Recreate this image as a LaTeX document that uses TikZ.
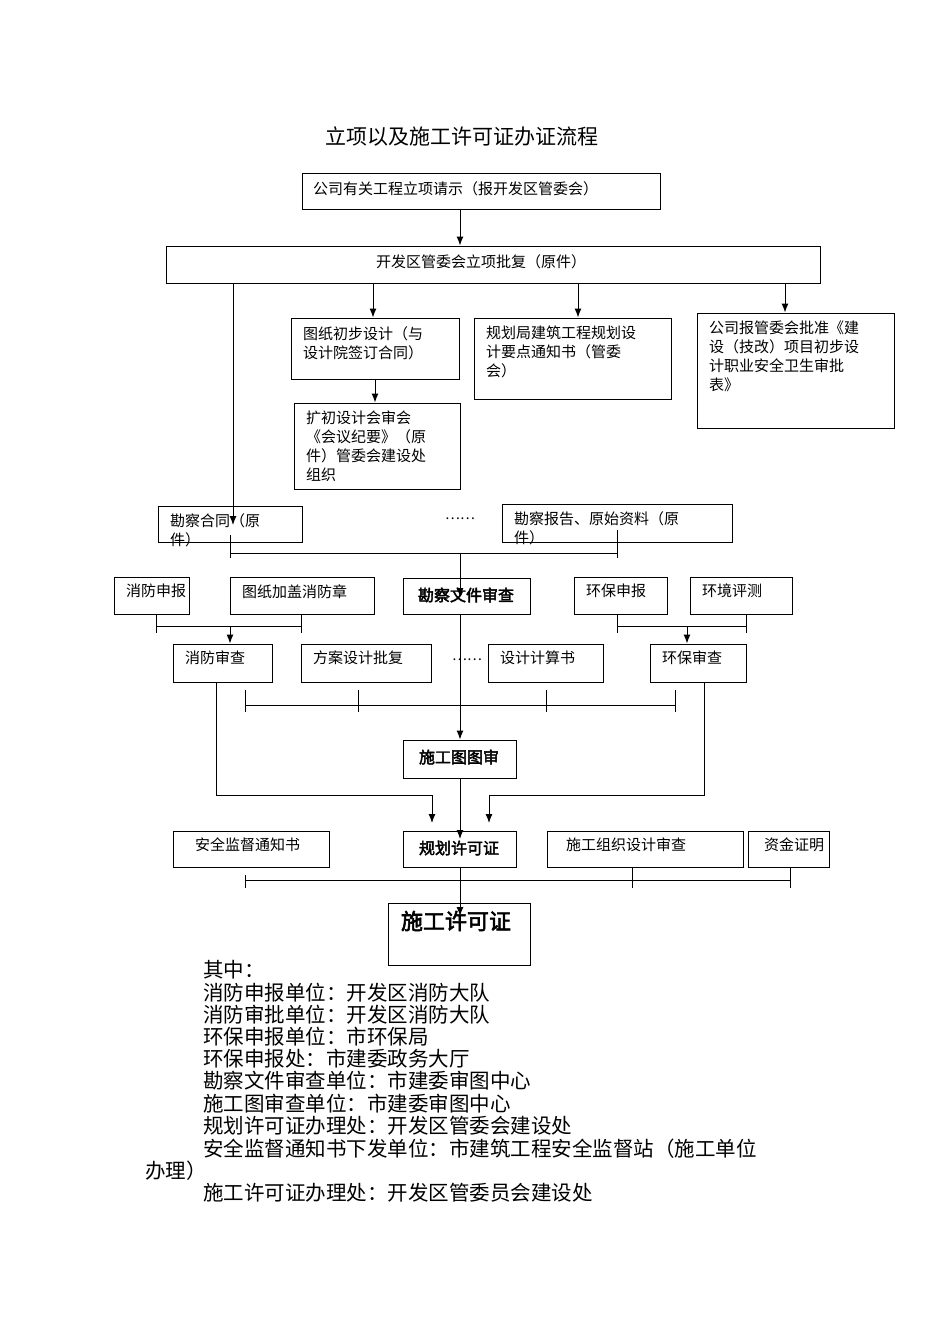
\documentclass[tikz,border=0pt]{standalone}
\usepackage{fontspec}
\usetikzlibrary{arrows.meta}
\setmainfont{Noto Sans CJK SC}[AutoFakeBold=2.5]
\begin{document}
\begin{tikzpicture}[x=1pt,y=-1pt,
  box/.style={draw,line width=1pt,inner sep=0pt},
  ln/.style={line width=1pt},
  arr/.style={line width=1pt,-{Latex[length=9pt,width=7pt]}},
  txt/.style={font=\fontsize{15}{19}\selectfont,align=left,anchor=north west,inner sep=0pt},
  btxt/.style={font=\bfseries\fontsize{16}{19}\selectfont,inner sep=0pt},
  note/.style={font=\fontsize{20.5}{22}\selectfont,anchor=west,inner sep=0pt}]
\fill[white] (0,0) rectangle (950,1344);
\newcommand\mybox[5]{\node[box,minimum width={(#4-#2)*1pt},minimum height={(#5-#3)*1pt}] (#1) at ({(#2+#4)/2},{(#3+#5)/2}) {};}
\node[font=\fontsize{21}{24}\selectfont] (title) at (462,137) {立项以及施工许可证办证流程};
\mybox{A}{302}{173}{660}{209}
\node[txt] at (313,181) {公司有关工程立项请示（报开发区管委会）};
\mybox{B}{166}{246}{820}{283}
\node[txt] at (376,254) {开发区管委会立项批复（原件）};
\mybox{C}{291}{318}{459}{379}
\node[txt] at (303,326) {图纸初步设计（与\\设计院签订合同）};
\mybox{D}{474}{318}{671}{399}
\node[txt] at (486,326) {规划局建筑工程规划设\\计要点通知书（管委\\会）};
\mybox{E}{697}{313}{894}{428}
\node[txt] at (709,321) {公司报管委会批准《建\\设（技改）项目初步设\\计职业安全卫生审批\\表》};
\mybox{F}{294}{403}{460}{489}
\node[txt] at (306,411) {扩初设计会审会\\《会议纪要》（原\\件）管委会建设处\\组织};
\mybox{G}{158}{506}{302}{542}
\node[txt] at (170,513) {勘察合同（原\\件）};
\node[font=\fontsize{14}{16}\selectfont] (d1) at (460,519) {……};
\mybox{H}{502}{504}{732}{542}
\node[txt] at (514,511) {勘察报告、原始资料（原\\件）};
\mybox{I}{114}{577}{189}{614}
\node[txt] at (126,584) {消防申报};
\mybox{J}{230}{577}{374}{614}
\node[txt] at (242,584) {图纸加盖消防章};
\mybox{K}{403}{578}{530}{614}
\node[btxt] at (466,595) {勘察文件审查};
\mybox{L}{574}{577}{667}{614}
\node[txt] at (586,584) {环保申报};
\mybox{M}{690}{577}{792}{614}
\node[txt] at (702,584) {环境评测};
\mybox{N}{173}{644}{272}{682}
\node[txt] at (185,651) {消防审查};
\mybox{O}{301}{644}{431}{682}
\node[txt] at (313,651) {方案设计批复};
\node[font=\fontsize{14}{16}\selectfont] (d2) at (467,660) {……};
\mybox{P}{488}{644}{603}{682}
\node[txt] at (500,651) {设计计算书};
\mybox{Q}{650}{644}{746}{682}
\node[txt] at (662,651) {环保审查};
\mybox{R}{403}{740}{516}{778}
\node[btxt] at (459,757) {施工图图审};
\mybox{S}{173}{831}{329}{867}
\node[txt] at (195,838) {安全监督通知书};
\mybox{T}{403}{831}{516}{867}
\node[btxt] at (459,848) {规划许可证};
\mybox{U}{547}{831}{743}{867}
\node[txt] at (566,838) {施工组织设计审查};
\mybox{V}{748}{831}{829}{867}
\node[txt] at (764,838) {资金证明};
\mybox{W}{388}{903}{530}{965}
\node[font=\bfseries\fontsize{22}{24}\selectfont,inner sep=0pt] at (456,921) {施工许可证};
% connectors
\draw[arr] (A.south -| 460,0) -- (B.north -| 460,0);
\draw[arr] (B.south -| 373,0) -- (C.north -| 373,0);
\draw[arr] (B.south -| 578,0) -- (D.north -| 578,0);
\draw[arr] (B.south -| 785,0) -- (E.north -| 785,0);
\draw[arr] (C.south -| 375,0) -- (F.north -| 375,0);
\draw[arr] (B.south -| 233,0) -- (233,525);
\draw[ln] (230,535) -- (230,558) (617,530) -- (617,558) (230,553) -- (617,553);
\draw[arr] (460,553) -- (460,597);
\draw[arr] (K.south -| 460,0) -- (R.north -| 460,0);
\draw[ln] (156,614) -- (156,633) (301,614) -- (301,633) (156,626) -- (301,626);
\draw[arr] (230,626) -- (N.north -| 230,0);
\draw[ln] (617,614) -- (617,633) (746,614) -- (746,633) (617,626) -- (746,626);
\draw[arr] (687,626) -- (Q.north -| 687,0);
\draw[ln] (245,690) -- (245,712) (358,690) -- (358,712) (546,690) -- (546,712) (675,690) -- (675,712) (245,705) -- (675,705);
\draw[arr] (N.south -| 216,0) -- (216,795) -- (432,795) -- (432,823);
\draw[arr] (Q.south -| 704,0) -- (704,795) -- (489,795) -- (489,823);
\draw[arr] (R.south -| 460,0) -- (460,839);
\draw[ln] (245,875) -- (245,888) (632,867) -- (632,888) (790,867) -- (790,888) (245,880) -- (790,880);
\draw[arr] (T.south -| 460,0) -- (460,916);
% notes
\node[note] at (203,970) {其中：};
\node[note] at (203,993) {消防申报单位：开发区消防大队};
\node[note] at (203,1015) {消防审批单位：开发区消防大队};
\node[note] at (203,1037) {环保申报单位：市环保局};
\node[note] at (203,1059) {环保申报处：市建委政务大厅};
\node[note] at (203,1081) {勘察文件审查单位：市建委审图中心};
\node[note] at (203,1104) {施工图审查单位：市建委审图中心};
\node[note] at (203,1126) {规划许可证办理处：开发区管委会建设处};
\node[note] at (203,1149) {安全监督通知书下发单位：市建筑工程安全监督站（施工单位};
\node[note] at (145,1171) {办理）};
\node[note] at (203,1193) {施工许可证办理处：开发区管委员会建设处};
\end{tikzpicture}
\end{document}
